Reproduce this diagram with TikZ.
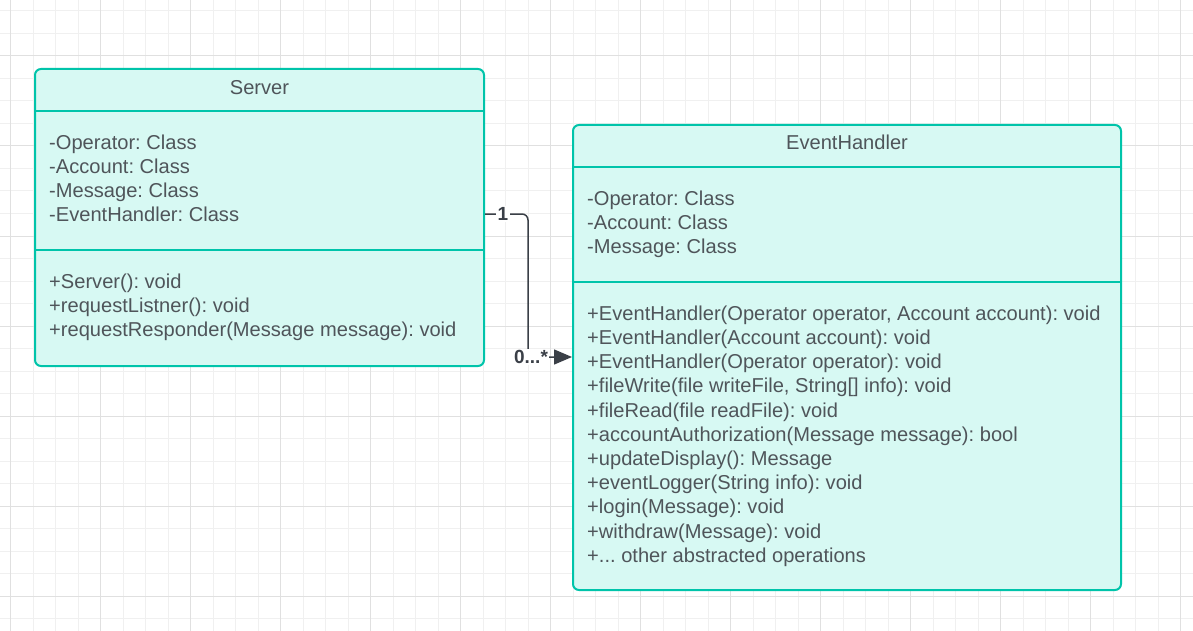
\documentclass[tikz,border=0pt]{standalone}
\usepackage{fontspec}
\setmainfont{Liberation Sans}
\usetikzlibrary{arrows.meta}
\definecolor{gridminor}{HTML}{F0F0F0}
\definecolor{gridmajor}{HTML}{E0E0E0}
\definecolor{umlborder}{HTML}{00C4AA}
\definecolor{umlfill}{HTML}{D7F9F3}
\definecolor{umltext}{HTML}{4F555A}
\definecolor{conncol}{HTML}{3A3F47}
\tikzset{
  gminor/.style={draw=gridminor, line width=1pt},
  gmajor/.style={draw=gridmajor, line width=1pt},
  classbox/.style={draw=umlborder, fill=umlfill, line width=2pt, rounded corners=6pt, inner sep=0pt},
  divider/.style={draw=umlborder, line width=2pt},
  umltxt/.style={text=umltext, inner sep=0pt, font=\fontsize{20.1}{24.2}\selectfont},
  members/.style={umltxt, align=left, anchor=north west},
  title/.style={umltxt, anchor=base},
  conn/.style={draw=conncol, line width=1.5pt},
  mult/.style={text=conncol, fill=white, inner sep=1.5pt, font=\fontsize{19}{22}\selectfont\bfseries},
}
\newcommand{\fl}{\rule{0pt}{17pt}}
\frenchspacing
\begin{document}
\begin{tikzpicture}[x=1pt,y=-1pt]
\useasboundingbox (0,0) rectangle (1193,631);
\fill[white] (0,0) rectangle (1193,631);
% grid
\foreach \k in {0,...,52} {\draw[gminor] ({10.7+22.5*\k},0) -- ++(0,631);}
\foreach \k in {0,...,27} {\draw[gminor] (0,{11+22.5*\k}) -- ++(1193,0);}
\foreach \k in {0,...,13} {\draw[gmajor] ({10.7+90*\k},0) -- ++(0,631);}
\foreach \k in {0,...,6} {\draw[gmajor] (0,{56+90*\k}) -- ++(1193,0);}

% Server class
\node[classbox, minimum width=449pt, minimum height=297pt] (server) at (259.5,217.5) {};
\draw[divider] (server.west |- 0,111) -- (server.east |- 0,111);
\draw[divider] (server.west |- 0,250) -- (server.east |- 0,250);
\node[title] (servertitle) at (259.5,95) {Server};
\node[members] (serverattr) at (49,132) {\fl-Operator: Class\\-Account: Class\\-Message: Class\\-EventHandler: Class};
\node[members] (serverops) at (49,271) {\fl+Server(): void\\+requestListner(): void\\+requestResponder(Message message): void};

% EventHandler class
\node[classbox, minimum width=548pt, minimum height=465pt] (eh) at (847,357.5) {};
\draw[divider] (eh.west |- 0,167) -- (eh.east |- 0,167);
\draw[divider] (eh.west |- 0,282) -- (eh.east |- 0,282);
\node[title] (ehtitle) at (847,150) {EventHandler};
\node[members] (ehattr) at (587,188) {\fl-Operator: Class\\-Account: Class\\-Message: Class};
\node[members] (ehops) at (587,303) {\fl+EventHandler(Operator operator, Account account): void\\+EventHandler(Account account): void\\+EventHandler(Operator operator): void\\+fileWrite(file writeFile, String[] info): void\\+fileRead(file readFile): void\\+accountAuthorization(Message message): bool\\+updateDisplay(): Message\\+eventLogger(String info): void\\+login(Message): void\\+withdraw(Message): void\\+... other abstracted operations};

% connector
\coordinate (cstart) at (server.east |- 0,214);
\coordinate (cend) at (eh.west |- 0,357);
\draw[conn, rounded corners=6pt, -{Triangle[length=18pt,width=15pt]}] (cstart) -- (528,214) -- (528,357) -- (cend);
\node[mult] (m1) at (503,214) {1};
\node[mult] (m2) at (531,357) {0...*};
\end{tikzpicture}
\end{document}
